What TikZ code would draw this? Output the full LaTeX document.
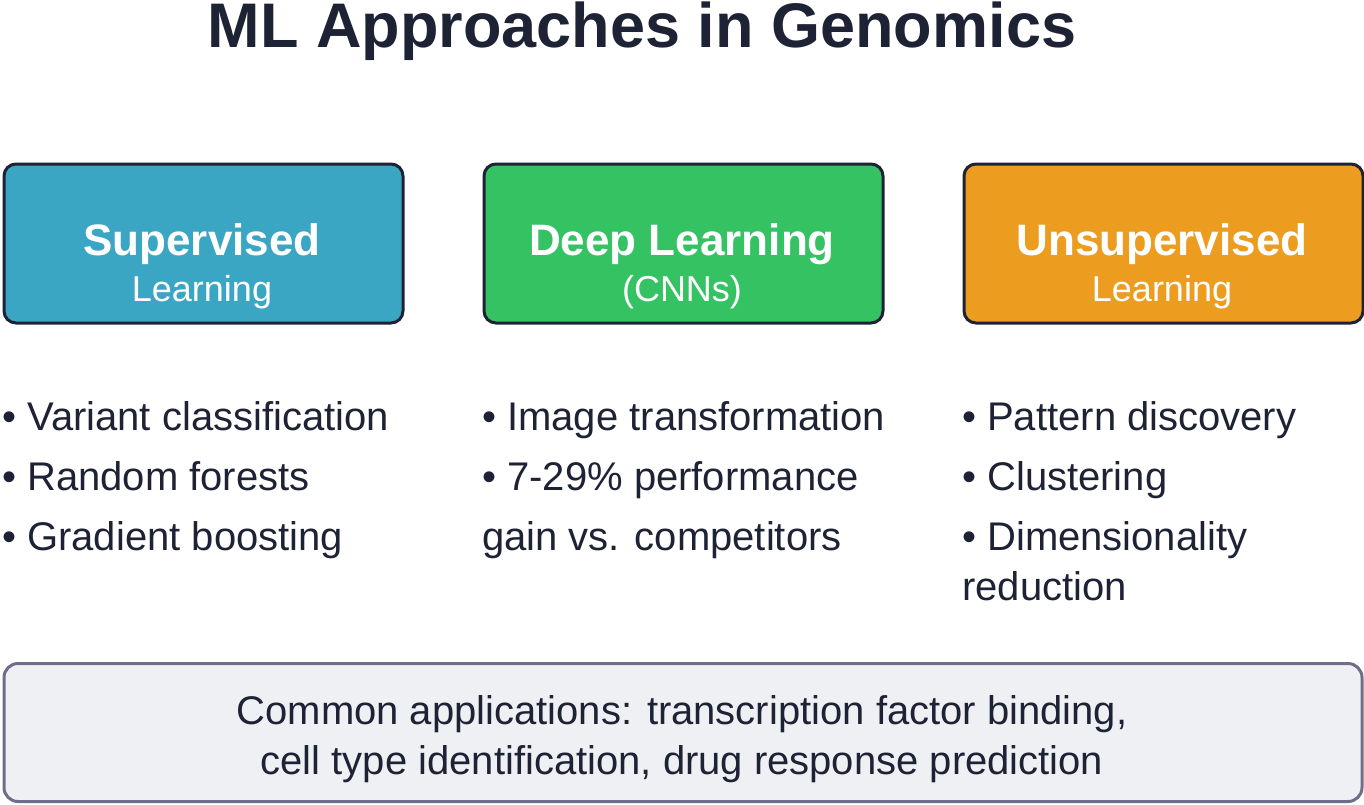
\documentclass[tikz,border=0pt]{standalone}
\usepackage{fontspec}
\setmainfont{Liberation Sans}
\begin{document}
\begin{tikzpicture}[x=1pt,y=-1pt,
  box/.style={draw=boxline,line width=3pt,rounded corners=12pt,minimum width=399pt,minimum height=159pt,anchor=north west},
  bt/.style={text=white,font=\fontsize{44}{48}\selectfont\bfseries,anchor=base},
  bs/.style={text=white,font=\fontsize{36}{40}\selectfont,anchor=base},
  li/.style={text=ink,font=\fontsize{40}{46}\selectfont,anchor=base west,inner sep=0pt},
  bl/.style={text=ink,font=\fontsize{40}{46}\selectfont,anchor=base,inner sep=0pt}]
\definecolor{ink}{HTML}{1E2235}
\definecolor{boxline}{HTML}{1E2235}
\definecolor{cb}{HTML}{3AA6C4}
\definecolor{cg}{HTML}{35C263}
\definecolor{co}{HTML}{EC9D20}
\definecolor{gb}{HTML}{EFF0F3}
\definecolor{gl}{HTML}{6E6E8A}
\useasboundingbox (0,0) rectangle (1364,804);
\node[text=ink,font=\fontsize{63}{70}\selectfont\bfseries,anchor=base] (title) at (642,47) {ML Approaches in Genomics};
\node[box,fill=cb] (s) at (2.5,162.5) {};
\node[box,fill=cg] (d) at (482.5,162.5) {};
\node[box,fill=co] (u) at (962.5,162.5) {};
\node[bt] (s1) at (202,255) {Supervised};
\node[bs] (s2) at (202,301) {Learning};
\node[bt] (d1) at (682,255) {Deep Learning};
\node[bs] (d2) at (682,301) {(CNNs)};
\node[bt] (u1) at (1162,255) {Unsupervised};
\node[bs] (u2) at (1162,301) {Learning};
\node[li] (a1) at (2,430) {• Variant classification};
\node[li] (a2) at (2,490) {• Random forests};
\node[li] (a3) at (2,550) {• Gradient boosting};
\node[li] (b1) at (482,430) {• Image transformation};
\node[li] (b2) at (482,490) {• 7-29\% performance};
\node[li] (b3) at (482,550) {gain vs. competitors};
\node[li] (c1) at (962,430) {• Pattern discovery};
\node[li] (c2) at (962,490) {• Clustering};
\node[li] (c3) at (962,550) {• Dimensionality};
\node[li] (c4) at (962,600) {reduction};
\node[draw=gl,fill=gb,line width=3pt,rounded corners=14pt,minimum width=1358pt,minimum height=138pt,anchor=north west] (bot) at (2.5,662) {};
\node[bl] (m1) at (682,724) {Common applications: transcription factor binding,};
\node[bl] (m2) at (682,774) {cell type identification, drug response prediction};
\end{tikzpicture}
\end{document}
